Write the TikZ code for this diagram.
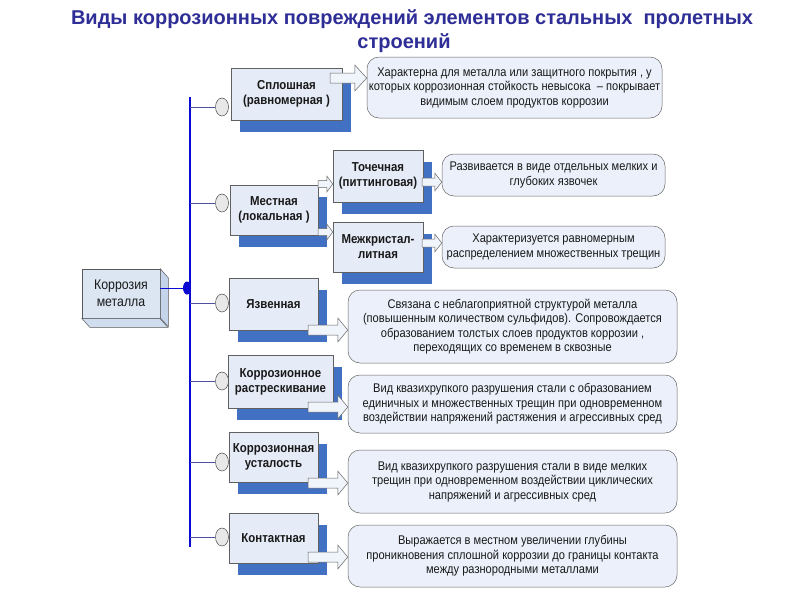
\documentclass[tikz,border=0pt]{standalone}
\usepackage{fontspec}
\setmainfont{Liberation Sans}[FakeStretch=0.88]
\newfontfamily\titlefont{Liberation Sans}
\usetikzlibrary{shapes.geometric,shadows,calc}
\definecolor{titleblue}{RGB}{46,46,150}
\definecolor{catfill}{RGB}{230,236,247}
\definecolor{descfill}{RGB}{235,240,250}
\definecolor{shadowblue}{RGB}{66,112,194}
\definecolor{vblue}{RGB}{10,10,210}
\definecolor{connblue}{RGB}{80,80,160}
\definecolor{arrfill}{RGB}{240,244,251}
\definecolor{rootface}{RGB}{220,230,243}
\definecolor{rootside}{RGB}{196,212,234}
\definecolor{txt}{RGB}{25,25,25}
\tikzset{
  catbox/.style={draw=gray!75!black, fill=catfill, line width=0.5pt, align=center,
    inner sep=1pt, text=txt, font=\fontsize{13}{15}\selectfont\bfseries,
    general shadow={fill=shadowblue, shadow xshift=9pt, shadow yshift=-12pt}},
  descbox/.style={draw=gray!80!black, fill=descfill, line width=0.5pt, rounded corners=12pt,
    align=center, inner sep=1pt, text=txt, font=\fontsize{12.6}{14.5}\selectfont},
  blockarr/.style={draw=gray!80!black, fill=arrfill, line width=0.5pt},
  bullet/.style={ellipse, draw=gray!60!black, fill=gray!18, line width=0.5pt,
    minimum width=13pt, minimum height=18pt, inner sep=0pt},
  conn/.style={draw=connblue, line width=0.7pt},
}
\newcommand\barr[5]{%
  \path[blockarr] let \p1=(#1), \p2=(#2) in
    (\x1,\y1+#3pt) -- (\x2-#5pt,\y1+#3pt) -- (\x2-#5pt,\y1+#4pt) -- (\x2,\y1)
    -- (\x2-#5pt,\y1-#4pt) -- (\x2-#5pt,\y1-#3pt) -- (\x1,\y1-#3pt) -- cycle;}
\begin{document}
\begin{tikzpicture}[x=1pt,y=-1pt]
\useasboundingbox (0,0) rectangle (800,600);
\fill[white] (0,0) rectangle (800,600);

% title
\node[font=\titlefont\fontsize{20}{24}\selectfont\bfseries, text=titleblue] (t1) at (412,19)
  {Виды коррозионных повреждений элементов стальных\ \ пролетных};
\node[font=\titlefont\fontsize{20}{24}\selectfont\bfseries, text=titleblue] (t2) at (404,43) {строений};

% vertical bus
\coordinate (vtop) at (190,97);
\coordinate (vbot) at (190,547);
\draw[vblue, line width=2.6pt] (vtop) -- (vbot);

% root 3D box
\node[draw=gray!70!black, fill=rootface, line width=0.5pt, minimum width=78pt, minimum height=49pt,
  inner sep=0pt, align=center, text=txt, font=\fontsize{14}{17}\selectfont] (root) at (121,293.5)
  {Коррозия\\металла};
\filldraw[draw=gray!70!black, fill=rootside, line width=0.5pt]
  (root.north east) -- ++(8,9) -- ++(0,49) -- ++(-8,-9) -- cycle;
\filldraw[draw=gray!70!black, fill=rootside!80!white, line width=0.5pt]
  (root.south west) -- ++(8,9) -- ++(78,0) -- ++(-8,-9) -- cycle;
\node[ellipse, fill=vblue, minimum width=8pt, minimum height=13pt, inner sep=0pt] (dot) at (187,288) {};
\draw[vblue, line width=0.8pt] (root.east |- dot) -- (dot.west);

% category boxes
\node[catbox, minimum width=111pt, minimum height=52pt] (spl) at (286.5,94) {Сплошная\\(равномерная )};
\node[catbox, minimum width=88pt, minimum height=50pt] (mest) at (274,210) {Местная\\(локальная )};
\node[catbox, minimum width=90pt, minimum height=52pt] (toch) at (378,176) {Точечная\\(питтинговая)};
\node[catbox, minimum width=90pt, minimum height=50pt] (mezh) at (378,247) {Межкристал-\\литная};
\node[catbox, minimum width=89pt, minimum height=52pt] (yazv) at (273.5,304) {Язвенная};
\node[catbox, minimum width=105pt, minimum height=53pt] (rastr) at (280.5,381.5) {Коррозионное\\растрескивание};
\node[catbox, minimum width=89pt, minimum height=50pt] (ust) at (273.5,457) {Коррозионная\\усталость};
\node[catbox, minimum width=89pt, minimum height=50pt] (kont) at (273.5,538) {Контактная};

% bullets and links to bus
\foreach \n/\yy in {b1/107, b2/203, b3/303, b4/381, b5/462, b6/537}{
  \node[bullet] (\n) at (222,\yy) {};
  \draw[conn] (\n.west) -- (\n.west -| vtop);
}

% description boxes
\node[descbox, minimum width=295pt, minimum height=61pt] (d1) at (514.5,87.5)
  {Характерна для металла или защитного покрытия , у\\которых коррозионная стойкость невысока\ \ -- покрывает\\видимым слоем продуктов коррозии};
\node[descbox, minimum width=223pt, minimum height=42pt] (d2) at (553.5,175)
  {Развивается в виде отдельных мелких и\\глубоких язвочек};
\node[descbox, minimum width=223pt, minimum height=42pt] (d3) at (553.5,247)
  {Характеризуется равномерным\\распределением множественных трещин};
\node[descbox, minimum width=329pt, minimum height=73pt] (d4) at (512.5,326.5)
  {Связана с неблагоприятной структурой металла\\(повышенным количеством сульфидов). Сопровождается\\образованием толстых слоев продуктов коррозии ,\\переходящих со временем в сквозные};
\node[descbox, minimum width=329pt, minimum height=58pt] (d5) at (512.5,404)
  {Вид квазихрупкого разрушения стали с образованием\\единичных и множественных трещин при одновременном\\воздействии напряжений растяжения и агрессивных сред};
\node[descbox, minimum width=329pt, minimum height=63pt] (d6) at (512.5,481.5)
  {Вид квазихрупкого разрушения стали в виде мелких\\трещин при одновременном воздействии циклических\\напряжений и агрессивных сред};
\node[descbox, minimum width=329pt, minimum height=62pt] (d7) at (512.5,556)
  {Выражается в местном увеличении глубины\\проникновения сплошной коррозии до границы контакта\\между разнородными металлами};

% block arrows
\coordinate (s1) at (330,78);
\coordinate (s2) at (318,184);
\coordinate (s3) at (318,232);
\coordinate (s4) at (422,182);
\coordinate (s5) at (422,243);
\coordinate (s6) at (308,330);
\coordinate (s7) at (308,407);
\coordinate (s8) at (308,483);
\coordinate (s9) at (308,557);
\barr{s1}{d1.west}{5}{13}{12}
\barr{s2}{toch.west}{3.5}{8}{6}
\barr{s3}{mezh.west}{3.5}{8}{6}
\barr{s4}{d2.west}{4}{9}{7}
\barr{s5}{d3.west}{4}{9}{7}
\barr{s6}{d4.west}{5}{12}{10}
\barr{s7}{d5.west}{5}{12}{10}
\barr{s8}{d6.west}{5}{12}{10}
\barr{s9}{d7.west}{5}{12}{10}
\end{tikzpicture}
\end{document}
